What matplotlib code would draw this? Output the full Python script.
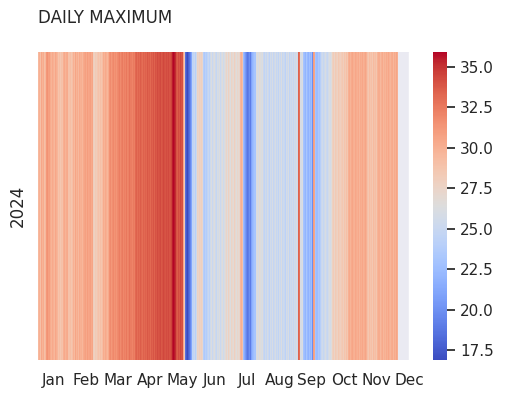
import numpy as np
import pandas as pd
import matplotlib
matplotlib.use("Agg")
import matplotlib.pyplot as plt
import seaborn as sns

sns.set_theme()

year_label = "2024"
month_labels = ["Jan", "Feb", "Mar", "Apr", "May", "Jun",
                "Jul", "Aug", "Sep", "Oct", "Nov", "Dec"]
days_in_year = 366

daily_max = [
    29.5, 30.0, 29.0, 30.5, 29.8, 30.2, 29.0, 29.6,
    31.2, 31.5, 30.8, 31.0,
    30.2, 29.8, 30.4, 30.0, 29.6, 30.5, 30.1, 29.7,
    28.8, 29.2, 28.6, 29.0, 28.9,
    30.0, 30.4, 29.8, 30.2, 30.3,
    28.9, 29.2, 28.7, 29.1,
    30.0, 29.4, 30.6, 29.8, 30.2, 29.5, 30.4, 29.9, 30.1, 29.6, 30.3,
    30.6, 30.8, 30.4, 31.0, 30.5, 30.7, 30.9, 30.3, 30.6,
    28.0, 27.8, 28.4, 28.1, 28.6,
    28.9, 28.5, 29.0, 28.7, 29.2,
    30.2, 29.8, 30.4, 30.0, 29.6, 30.3,
    31.5, 31.8, 31.2, 31.6, 31.9, 31.4, 31.7, 31.3, 31.8,
    32.0, 32.4, 31.8, 32.2, 32.5, 31.9, 32.3, 32.1, 32.6, 32.0, 32.2, 32.8, 32.4, 32.1, 32.5, 32.3,
    33.2, 33.5, 33.0, 33.4, 33.1, 33.6, 33.3, 33.0, 33.5, 33.2,
    33.5, 33.3, 33.8, 33.4, 33.6, 33.2, 33.7, 33.5, 33.9, 33.4,
    34.0, 33.8, 34.2, 33.9, 34.1, 34.3, 33.8, 34.0, 34.4, 34.1, 33.9, 34.2, 34.0, 34.3, 33.9, 34.1, 34.5,
    35.5, 35.9, 35.6, 35.2,
    34.0, 33.6, 34.2, 33.8, 34.4, 33.9, 34.1,
    30.5, 28.5,
    18.5, 17.5, 16.9, 17.8, 18.6, 19.5, 21.0,
    24.5, 25.0, 24.0, 25.5,
    27.8, 27.5, 28.0, 27.6, 27.9, 27.3,
    24.0, 23.5, 24.2, 23.8, 24.5, 25.0, 24.3,
    25.5, 26.2, 25.0, 25.8, 26.4, 25.3, 24.8, 26.0, 25.6, 26.3, 25.1, 25.9, 26.5, 25.4, 26.1,
    26.8, 27.5, 26.5, 27.8, 27.0, 26.3, 27.6, 27.2, 26.7, 27.9, 27.1, 26.6, 27.4, 26.9, 27.3,
    29.5, 30.0, 29.0,
    22.5, 21.5, 20.5, 19.5, 18.8, 19.2, 20.0, 19.0, 21.0, 22.0, 22.5, 23.0,
    26.2, 26.6, 26.0, 26.8, 26.4, 26.1, 26.5,
    25.0, 24.6, 25.5, 24.8, 25.8, 25.2, 24.4, 25.6, 25.0, 26.0, 24.7, 25.3,
    25.9, 24.9, 25.4, 24.5, 25.7, 25.1, 26.2, 24.8, 25.5, 25.0, 24.3, 25.8,
    25.2, 26.1, 24.6, 25.4, 25.0, 25.6, 24.9, 25.7, 25.3, 26.0, 25.5,
    33.5, 33.0,
    26.0, 25.8, 26.2,
    23.0, 22.5, 22.0, 23.2, 22.3, 21.8, 22.7, 22.0, 22.5,
    19.8,
    31.0, 30.5,
    23.0, 22.5, 23.5, 23.0, 24.0,
    25.0, 25.5, 24.8, 25.3, 26.0, 25.2, 24.9, 25.6, 26.2, 25.8, 26.5,
    27.8, 28.2, 27.5, 28.4, 28.0, 27.7, 28.5, 28.1, 27.9, 28.3, 28.6, 28.0, 28.8, 28.4, 29.0, 28.6,
    30.0, 30.4, 29.8, 30.3, 30.6, 30.1, 29.9, 30.5, 30.2, 30.0, 30.4, 29.7, 30.3, 30.1, 30.5, 29.9, 30.2, 30.6, 30.0,
    29.0, 28.6, 29.3, 28.8, 29.1, 28.5, 29.4, 28.9, 29.2, 28.7,
    29.8, 30.2, 29.5, 30.0, 30.4, 29.6, 30.1, 29.8, 30.3, 29.9,
    30.5, 30.0, 29.7, 30.2, 30.4, 29.6, 30.3, 29.9, 30.6, 30.1,
]

values = list(daily_max[:days_in_year]) + [np.nan] * max(0, days_in_year - len(daily_max))
df = pd.DataFrame([values], index=[year_label])

fig = plt.figure(figsize=(5.05, 3.99), dpi=100)
ax = fig.add_axes([38/505, 1-360/399, (410-38)/505, (360-52)/399])
cax = fig.add_axes([433/505, 1-360/399, 14/505, (360-52)/399])

sns.heatmap(df, cmap="coolwarm", ax=ax, cbar_ax=cax,
            xticklabels=False, yticklabels=False)

ax.set_xticks(np.linspace(15, 365, 12))
ax.set_xticklabels(month_labels, rotation=0)
ax.set_ylabel(year_label, labelpad=8)
ax.set_xlabel("")
cax.set_yticks([17.5, 20.0, 22.5, 25.0, 27.5, 30.0, 32.5, 35.0])
cax.set_yticklabels(["17.5", "20.0", "22.5", "25.0", "27.5", "30.0", "32.5", "35.0"])

fig.text(38/505, 1-18/399, "DAILY MAXIMUM", ha="left", va="center", fontsize=12)

fig.savefig("out.png", dpi=100)
